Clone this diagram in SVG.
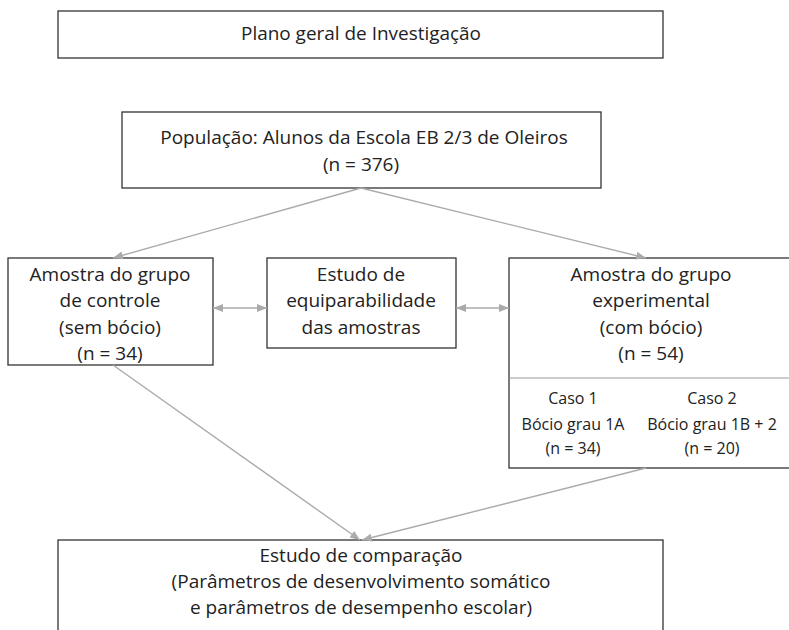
<svg xmlns="http://www.w3.org/2000/svg" width="789" height="630" viewBox="0 0 789 630">
<style>
.box{fill:#fff;stroke:#333;stroke-width:1.3}
.t{font-family:"Open Sans","Liberation Sans",sans-serif;font-size:19px;fill:#222;text-anchor:middle;font-weight:400}
.s{font-size:16px}
.c{stroke:#aaa;stroke-width:1.4;fill:none}
</style>
<defs>
<marker id="ah" viewBox="0 0 10 10" refX="10" refY="5" markerWidth="10" markerHeight="10" markerUnits="userSpaceOnUse" orient="auto-start-reverse">
<path d="M0,1 L10,5 L0,9 Z" fill="#aaa"/>
</marker>
</defs>
<rect width="789" height="630" fill="#fff"/>
<g id="title">
<rect class="box" x="58" y="11" width="605" height="47"/>
<text class="t" x="361" y="40" textLength="240" lengthAdjust="spacingAndGlyphs">Plano geral de Investigação</text>
</g>
<g id="populacao">
<rect class="box" x="122" y="112" width="479" height="76"/>
<text class="t" x="364" y="144">População: Alunos da Escola EB 2/3 de Oleiros</text>
<text class="t" x="361" y="171">(n = 376)</text>
</g>
<g id="controle">
<rect class="box" x="8" y="258" width="205" height="107"/>
<text class="t" x="110" y="281">Amostra do grupo</text>
<text class="t" x="110" y="307">de controle</text>
<text class="t" x="110" y="334">(sem bócio)</text>
<text class="t" x="110" y="360">(n = 34)</text>
</g>
<g id="equiparabilidade">
<rect class="box" x="267" y="258" width="189" height="90"/>
<text class="t" x="361" y="281">Estudo de</text>
<text class="t" x="361" y="307">equiparabilidade</text>
<text class="t" x="361" y="334">das amostras</text>
</g>
<g id="experimental">
<rect class="box" x="509" y="258" width="282" height="210"/>
<line x1="509" y1="378" x2="791" y2="378" stroke="#999" stroke-width="1"/>
<text class="t" x="651" y="281">Amostra do grupo</text>
<text class="t" x="651" y="307">experimental</text>
<text class="t" x="651" y="334">(com bócio)</text>
<text class="t" x="651" y="360">(n = 54)</text>
<text class="t s" x="573" y="404">Caso 1</text>
<text class="t s" x="573" y="430">Bócio grau 1A</text>
<text class="t s" x="573" y="454">(n = 34)</text>
<text class="t s" x="712" y="404">Caso 2</text>
<text class="t s" x="712" y="430">Bócio grau 1B + 2</text>
<text class="t s" x="712" y="454">(n = 20)</text>
</g>
<g id="comparacao">
<rect class="box" x="58" y="540" width="605" height="100"/>
<text class="t" x="361" y="562">Estudo de comparação</text>
<text class="t" x="361" y="588">(Parâmetros de desenvolvimento somático</text>
<text class="t" x="361" y="614">e parâmetros de desempenho escolar)</text>
</g>
<g id="connectors">
<line class="c" x1="361" y1="188" x2="113" y2="258" marker-end="url(#ah)"/>
<line class="c" x1="361" y1="188" x2="646" y2="258" marker-end="url(#ah)"/>
<line class="c" x1="213" y1="308" x2="267" y2="308" marker-start="url(#ah)" marker-end="url(#ah)"/>
<line class="c" x1="456" y1="308" x2="509" y2="308" marker-start="url(#ah)" marker-end="url(#ah)"/>
<line class="c" x1="113" y1="365" x2="360" y2="540" marker-end="url(#ah)"/>
<line class="c" x1="646" y1="468" x2="362" y2="540" marker-end="url(#ah)"/>
</g>
</svg>
